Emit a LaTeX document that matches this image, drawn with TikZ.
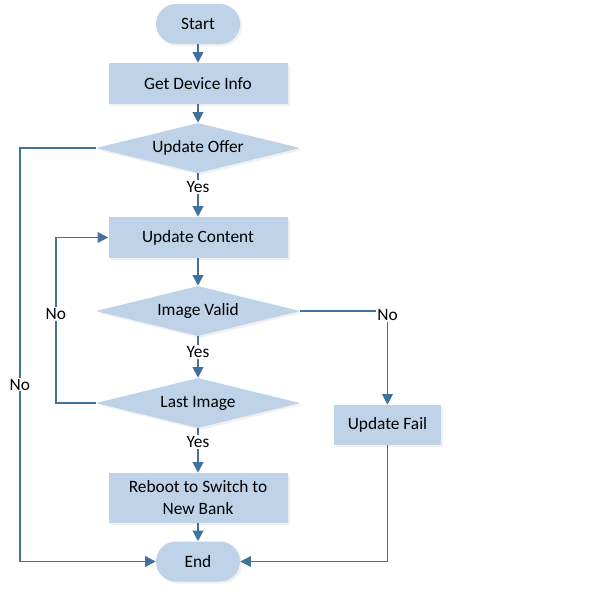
\documentclass[tikz,border=0pt]{standalone}
\usepackage{fontspec}
\setmainfont{Carlito}
\usetikzlibrary{shapes.geometric,arrows.meta,shadows}
\definecolor{boxfill}{RGB}{190,211,232}
\definecolor{flowline}{RGB}{65,113,156}
\begin{document}
\begin{tikzpicture}[x=0.75pt,y=-0.75pt,
    every node/.style={font=\fontsize{13}{16.5}\selectfont},
    shade/.style={drop shadow={opacity=0.12,shadow xshift=1.5pt,shadow yshift=-1.5pt}},
    term/.style={fill=boxfill,rounded corners=15pt,minimum width=63pt,minimum height=30pt,inner sep=0pt,shade},
    proc/.style={fill=boxfill,minimum width=134.25pt,minimum height=30.75pt,inner sep=0pt,align=center,shade},
    test/.style={diamond,aspect=4.08,fill=boxfill,minimum width=153pt,minimum height=37.5pt,inner sep=0pt,shade},
    arr/.style={-{Triangle[length=8pt,width=8pt]},flowline,line width=1.4pt},
    lbl/.style={fill=white,inner sep=1pt,text=black}]
      \useasboundingbox (0,0) rectangle (600,594);
      %main column
      \node[term] (start) at (198,24) {Start};
      \node[proc] (info) at (198,83.5) {Get Device Info};
      \node[test] (offer) at (198,148) {Update Offer};
      \node[proc] (content) at (198,237.5) {Update Content};
      \node[test] (valid) at (198,311) {Image Valid};
      \node[test] (last) at (198,403) {Last Image};
      \node[proc,minimum height=37.5pt] (reboot) at (198,498) {Reboot to Switch to\\New Bank};
      \node[term] (end) at (198,561.5) {End};
      %fail branch
      \node[proc,minimum width=80.25pt,minimum height=30pt] (fail) at (387.5,425) {Update Fail};
      %arrows
      \draw[arr] (start) -- (info);
      \draw[arr] (info) -- (offer);
      \draw[arr] (offer) -- node[lbl,pos=0.32] {Yes} (content);
      \draw[arr] (content) -- (valid);
      \draw[arr] (valid) -- node[lbl,pos=0.38] {Yes} (last);
      \draw[arr] (last) -- node[lbl,pos=0.3] {Yes} (reboot);
      \draw[arr] (reboot) -- (end);
      \draw[arr] (last.west) -- ++(-40,0) |- node[lbl,pos=0.27] {No} (content.west);
      \draw[arr] (offer.west) -- ++(-76,0) |- node[lbl,pos=0.286] {No} (end.west);
      \draw[arr] (valid.east) -| node[lbl,pos=0.52] {No} (fail.north);
      \draw[arr] (fail.south) |- (end.east);
\end{tikzpicture}
\end{document}
